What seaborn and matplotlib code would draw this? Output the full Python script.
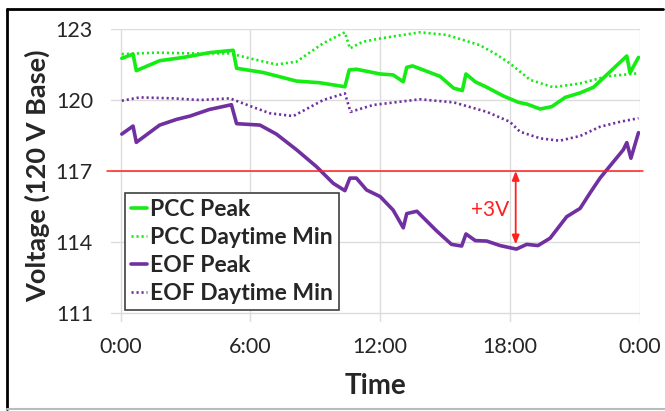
import matplotlib
matplotlib.use("Agg")
import matplotlib.pyplot as plt
import seaborn as sns
import pandas as pd
from matplotlib.lines import Line2D

# ---- data (hours since 0:00, volts) ----
pcc_peak_h = [0.05, 0.57, 0.72, 1.8, 2.9, 4.1, 5.2, 5.36, 6.6, 8.13, 9.2, 10.37, 10.57, 10.9,
              12.0, 12.6, 13.07, 13.23, 13.5, 14.77, 15.4, 15.8, 15.97, 16.4, 16.93, 17.7,
              18.4, 18.78, 19.4, 19.94, 20.56, 21.25, 21.87, 22.64, 23.41, 23.56, 23.95]
pcc_peak_v = [121.76, 121.94, 121.24, 121.66, 121.8, 122.0, 122.1, 121.34, 121.16, 120.8,
              120.73, 120.56, 121.27, 121.3, 121.1, 121.06, 120.77, 121.38, 121.44, 121.0,
              120.5, 120.4, 121.1, 120.77, 120.54, 120.17, 119.9, 119.83, 119.62, 119.72,
              120.11, 120.3, 120.54, 121.2, 121.86, 121.15, 121.8]

pcc_min_h = [0.05, 1.65, 3.2, 5.05, 5.97, 7.2, 8.13, 9.37, 10.37, 10.6, 11.2, 12.0, 13.84,
             15.08, 16.6, 17.3, 18.0, 18.47, 18.94, 20.0, 21.25, 22.5, 23.95]
pcc_min_v = [121.94, 122.0, 121.97, 121.97, 121.76, 121.5, 121.62, 122.4, 122.86, 122.18,
             122.46, 122.6, 122.86, 122.75, 122.32, 121.97, 121.55, 121.2, 120.85, 120.54,
             120.7, 121.0, 121.13]

eof_peak_h = [0.05, 0.57, 0.72, 1.8, 2.58, 3.2, 4.1, 5.12, 5.36, 6.44, 7.2, 8.13, 9.06, 9.83,
              10.37, 10.6, 10.9, 11.37, 12.0, 12.6, 13.07, 13.23, 13.7, 14.6, 15.3, 15.77,
              15.97, 16.4, 16.93, 17.55, 18.3, 18.78, 19.3, 19.86, 20.63, 21.25, 21.7, 22.17,
              23.25, 23.41, 23.6, 23.95]
eof_peak_v = [118.56, 118.9, 118.21, 118.94, 119.18, 119.32, 119.6, 119.8, 119.0, 118.94,
              118.56, 117.9, 117.18, 116.48, 116.17, 116.7, 116.7, 116.2, 115.92, 115.35,
              114.6, 115.2, 115.3, 114.48, 113.9, 113.83, 114.34, 114.06, 114.04, 113.85,
              113.7, 113.9, 113.85, 114.16, 115.07, 115.42, 116.06, 116.7, 117.9, 118.2,
              117.54, 118.62]

eof_min_h = [0.05, 0.88, 2.42, 3.66, 5.05, 5.97, 6.9, 7.98, 9.37, 10.37, 10.63, 11.68, 13.84,
             15.4, 16.93, 18.0, 18.47, 19.4, 20.3, 21.25, 22.17, 23.1, 23.95]
eof_min_v = [119.97, 120.11, 120.07, 120.0, 120.07, 119.75, 119.44, 119.32, 120.0, 120.28,
             119.5, 119.79, 120.03, 119.9, 119.5, 119.08, 118.66, 118.38, 118.28, 118.48,
             118.87, 119.08, 119.23]

series_names = ["PCC Peak", "PCC Daytime Min", "EOF Peak", "EOF Daytime Min"]
x_ticks = [0, 6, 12, 18, 24]
x_tick_labels = ["0:00", "6:00", "12:00", "18:00", "0:00"]
y_ticks = [111, 114, 117, 120, 123]
limit_v = 117
arrow_h = 18.27
arrow_low = 113.9
arrow_label = "+3V"

GREEN = "#14EC14"
PURPLE = "#7030A0"

sns.set_theme(style="white")
plt.rcParams["font.family"] = ["Lato", "DejaVu Sans"]

fig = plt.figure(figsize=(6.65, 4.11), dpi=100)
ax = fig.add_axes([111 / 665, 1 - 322 / 411, (640 - 111) / 665, (322 - 29) / 411])

dot = (0, (0.8, 1.1))
specs = [
    (pcc_peak_h, pcc_peak_v, GREEN, "-", 2.6),
    (pcc_min_h, pcc_min_v, GREEN, dot, 1.9),
    (eof_peak_h, eof_peak_v, PURPLE, "-", 2.6),
    (eof_min_h, eof_min_v, PURPLE, dot, 1.9),
]
for (h, v, c, ls, lw), name in zip(specs, series_names):
    df = pd.DataFrame({"h": h, "v": v})
    sns.lineplot(data=df, x="h", y="v", ax=ax, color=c, linestyle=ls, lw=lw,
                 label=name, sort=False)

ax.set_xlim(-0.45, 24.02)
ax.set_ylim(110.62, 123.0)
ax.set_xticks(x_ticks)
ax.set_xticklabels(x_tick_labels)
ax.set_yticks(y_ticks)
ax.tick_params(axis="both", length=0, labelsize=15.5, colors="#262626")
ax.tick_params(axis="x", pad=11)
ax.tick_params(axis="y", pad=13)
ax.grid(True, color="#DCDCDC", lw=1.0)
for s in ax.spines.values():
    s.set_visible(False)

ax.set_xlabel("Time", fontsize=20, fontweight="bold", labelpad=11)
ax.set_ylabel("Voltage (120 V Base)", fontsize=19.5, fontweight="bold", labelpad=4)

ax.axhline(limit_v, xmin=-0.007, xmax=1.006, color="#FF2020", lw=1.1, clip_on=False, zorder=3)
ax.annotate("", xy=(arrow_h, arrow_low), xytext=(arrow_h, limit_v),
            arrowprops=dict(arrowstyle="<|-|>,head_length=0.45,head_width=0.18",
                            color="#FF2020", lw=1.3, shrinkA=0, shrinkB=0))
ax.text(arrow_h - 0.3, 115.35, arrow_label, color="#FF2020", fontsize=15,
        ha="right", va="center")

leg = ax.legend(loc="lower left", bbox_to_anchor=(0.026, 0.041), borderaxespad=0,
                frameon=True, fancybox=False, edgecolor="#404040", framealpha=1,
                handlelength=0.7, handletextpad=0.1, labelspacing=0.3,
                borderpad=0.28, prop=dict(family="Lato", weight="bold", size=16.5))
leg.get_frame().set_linewidth(1.2)

# outer frame
fig.add_artist(Line2D([7 / 665, 7 / 665], [1 - 9 / 411, 1 - 409 / 411], color="black", lw=2))
fig.add_artist(Line2D([7 / 665, 663 / 665], [1 - 9 / 411, 1 - 9 / 411], color="black", lw=2))
fig.add_artist(Line2D([7 / 665, 665 / 665], [1 - 409 / 411, 1 - 409 / 411], color="#BBBBBB", lw=1.5))

fig.savefig("out.png", dpi=100)
